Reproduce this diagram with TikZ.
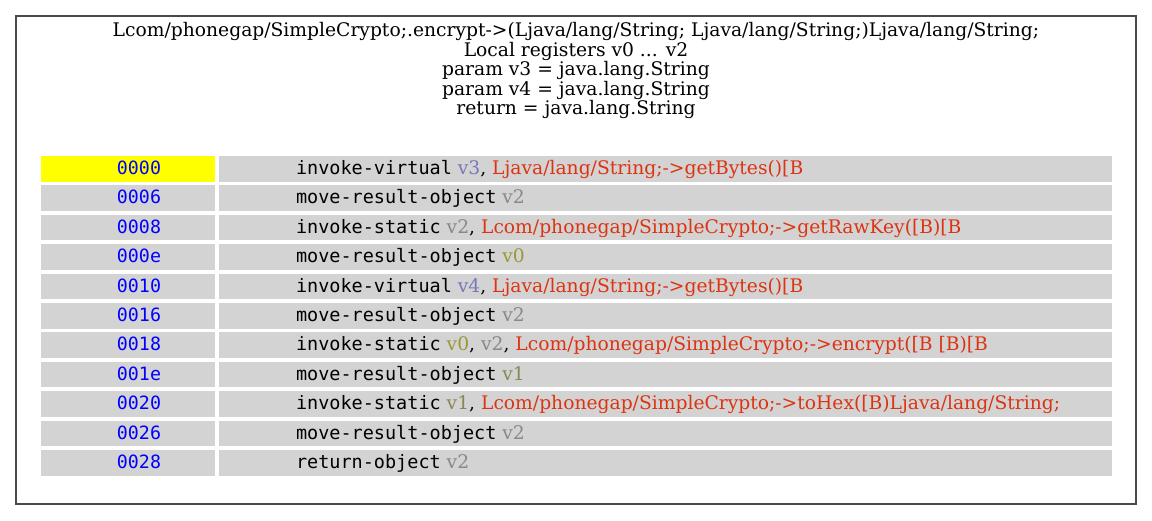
\documentclass[tikz,border=0pt]{standalone}
\usepackage{fontspec}
\setmainfont{DejaVu Serif}
\setmonofont{DejaVu Sans Mono}
\definecolor{regA}{HTML}{7777BB}
\definecolor{regB}{HTML}{888888}
\definecolor{regC}{HTML}{999933}
\definecolor{regD}{HTML}{888855}
\definecolor{meth}{HTML}{DD3311}
\definecolor{framec}{HTML}{4A4A4A}
\definecolor{cellgray}{HTML}{D3D3D3}
\definecolor{addrc}{HTML}{0000FF}
\definecolor{hilite}{HTML}{FFFF00}
\newcommand\mn[1]{{\ttfamily\fontsize{18.5}{20}\selectfont #1}}
\newcommand\rg[2]{{\color{#1}#2}}
\newcommand\mt[1]{{\color{meth}#1}}
\begin{document}
\begin{tikzpicture}[x=1pt,y=-1pt,
  every node/.style={inner sep=0pt, outer sep=0pt},
  hdr/.style={anchor=base, font=\fontsize{18.7}{20}\selectfont},
  addrcell/.style={anchor=north west, minimum width=173.5pt, minimum height=25.6pt},
  codecell/.style={anchor=north west, fill=cellgray, minimum width=893.2pt, minimum height=25.6pt},
  addrtext/.style={anchor=base, text=addrc, font=\fontsize{18.3}{20}\selectfont\ttfamily},
  codetext/.style={anchor=base west, font=\fontsize{18.7}{20}\selectfont}
]
\useasboundingbox (0,0) rectangle (1152,520);
\fill[white] (0,0) rectangle (1152,520);
\draw[framec, line width=1.3pt] (16,16) rectangle (1136,504);
\node[hdr] (h1) at (576,36.5) {Lcom/phonegap/SimpleCrypto;.encrypt->(Ljava/lang/String; Ljava/lang/String;)Ljava/lang/String;};
\node[hdr] (h2) at (576,56.1) {Local registers v0 ... v2};
\node[hdr] (h3) at (576,75.7) {param v3 = java.lang.String};
\node[hdr] (h4) at (576,95.3) {param v4 = java.lang.String};
\node[hdr] (h5) at (576,114.9) {return = java.lang.String};
\foreach \i/\fc/\ad/\code in {
  0/hilite/0000/{\mn{invoke-virtual} \rg{regA}{v3}, \mt{Ljava/lang/String;->getBytes()[B}},
  1/cellgray/0006/{\mn{move-result-object} \rg{regB}{v2}},
  2/cellgray/0008/{\mn{invoke-static} \rg{regB}{v2}, \mt{Lcom/phonegap/SimpleCrypto;->getRawKey([B)[B}},
  3/cellgray/000e/{\mn{move-result-object} \rg{regC}{v0}},
  4/cellgray/0010/{\mn{invoke-virtual} \rg{regA}{v4}, \mt{Ljava/lang/String;->getBytes()[B}},
  5/cellgray/0016/{\mn{move-result-object} \rg{regB}{v2}},
  6/cellgray/0018/{\mn{invoke-static} \rg{regC}{v0}, \rg{regB}{v2}, \mt{Lcom/phonegap/SimpleCrypto;->encrypt([B [B)[B}},
  7/cellgray/001e/{\mn{move-result-object} \rg{regD}{v1}},
  8/cellgray/0020/{\mn{invoke-static} \rg{regD}{v1}, \mt{Lcom/phonegap/SimpleCrypto;->toHex([B)Ljava/lang/String;}},
  9/cellgray/0026/{\mn{move-result-object} \rg{regB}{v2}},
  10/cellgray/0028/{\mn{return-object} \rg{regB}{v2}}} {
  \pgfmathsetmacro\ty{156+29.4*\i}
  \node[addrcell, fill=\fc] (a\i) at (41,\ty) {};
  \node[codecell] (c\i) at (218.5,\ty) {};
  \node[addrtext] (at\i) at (139,\ty+18.5) {\ad};
  \node[codetext] (ct\i) at (296,\ty+18.5) {\code};
}
\end{tikzpicture}
\end{document}
